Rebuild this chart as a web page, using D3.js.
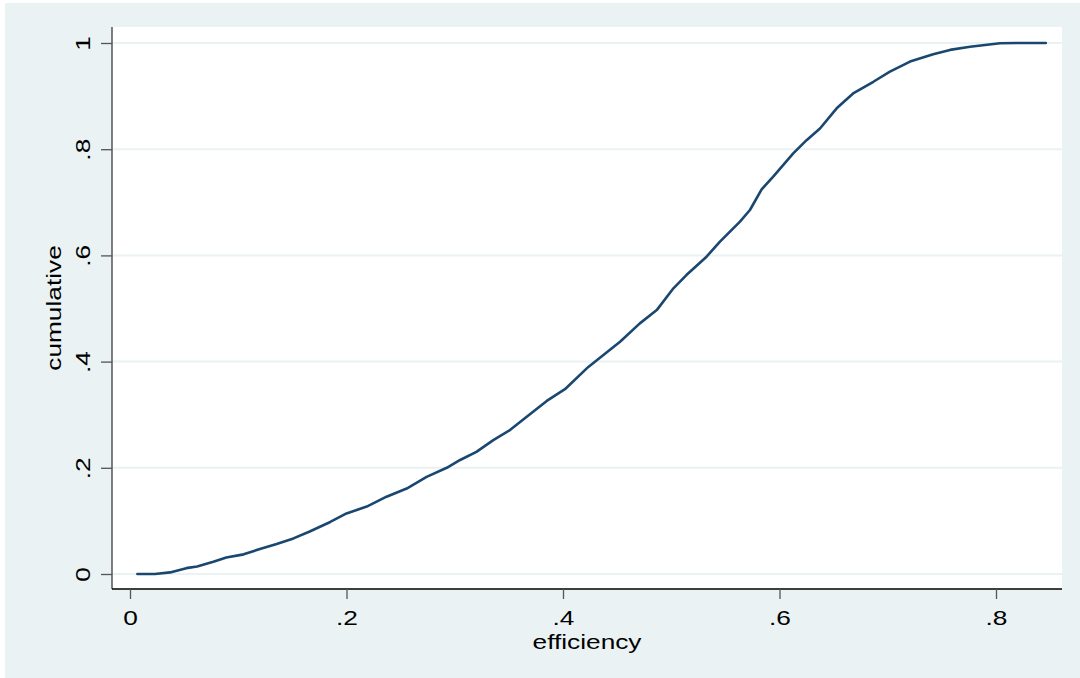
<!DOCTYPE html>
<html>
<head>
<meta charset="utf-8">
<script src="https://cdn.jsdelivr.net/npm/d3@7"></script>
<style>
  html, body { margin: 0; padding: 0; background: #ffffff; }
  svg { display: block; }
  text { font-family: "Liberation Sans", Arial, sans-serif; fill: #000; }
</style>
</head>
<body>
<svg id="chart" width="1080" height="678"></svg>
<script>
// Empirical cumulative distribution of efficiency scores
const efficiency = [
  0.0068, 0.023, 0.037, 0.052, 0.062, 0.077, 0.089, 0.105, 0.120, 0.1355,
  0.151, 0.166, 0.185, 0.200, 0.2187, 0.237, 0.2556, 0.274, 0.2926, 0.305,
  0.320, 0.3356, 0.351, 0.3665, 0.385, 0.4018, 0.4234, 0.4527, 0.471, 0.4866,
  0.502, 0.514, 0.5326, 0.545, 0.5635, 0.5727, 0.5835, 0.594, 0.6127, 0.625,
  0.6374, 0.6528, 0.668, 0.6867, 0.702, 0.7206, 0.742, 0.7575, 0.776, 0.8037,
  0.819, 0.846
];
const cumulative = [
  0.000, 0.000, 0.003, 0.011, 0.014, 0.023, 0.031, 0.037, 0.047, 0.0565,
  0.067, 0.080, 0.098, 0.114, 0.127, 0.1456, 0.161, 0.183, 0.200, 0.2147,
  0.230, 0.252, 0.271, 0.296, 0.326, 0.348, 0.390, 0.4375, 0.472, 0.497,
  0.538, 0.563, 0.5976, 0.626, 0.6635, 0.6855, 0.7245, 0.748, 0.792, 0.817,
  0.839, 0.877, 0.905, 0.927, 0.946, 0.965, 0.979, 0.987, 0.993, 0.9994,
  1.000, 1.000
];
const xTicks = [0, 0.2, 0.4, 0.6, 0.8];
const xTickLabels = ["0", ".2", ".4", ".6", ".8"];
const yTicks = [0, 0.2, 0.4, 0.6, 0.8, 1];
const yTickLabels = ["0", ".2", ".4", ".6", ".8", "1"];
const xTitle = "efficiency";
const yTitle = "cumulative";

const W = 1080, H = 678;
const plot = { left: 112, right: 1062, top: 27, bottom: 589 };
const FONT = "21px";
const STRETCH = 1.25; // wide lettering along the text direction

const svg = d3.select("#chart");

// Outer graph region
svg.append("rect").attr("x", 5).attr("y", 3).attr("width", W - 5).attr("height", H - 3)
  .attr("fill", "#EAF2F3");
// Plot region
svg.append("rect").attr("x", plot.left).attr("y", plot.top)
  .attr("width", plot.right - plot.left).attr("height", plot.bottom - plot.top)
  .attr("fill", "#ffffff");

const x = d3.scaleLinear().domain([0, 0.8]).range([130, 996]);
const y = d3.scaleLinear().domain([0, 1]).range([574, 43]);

// Horizontal grid lines
svg.append("g").selectAll("line").data(yTicks).join("line")
  .attr("x1", plot.left).attr("x2", plot.right)
  .attr("y1", d => y(d)).attr("y2", d => y(d))
  .attr("stroke", "#EAF2F3").attr("stroke-width", 2);

// Y axis
const yAxis = d3.axisLeft(y).tickValues(yTicks).tickSize(11).tickPadding(0)
  .tickFormat((d, i) => yTickLabels[i]);
const gy = svg.append("g").attr("transform", `translate(${plot.left},0)`).call(yAxis);
gy.select(".domain").attr("d", `M0,${plot.top}V${plot.bottom}`).attr("stroke", "#555").attr("stroke-width", 1.5);
gy.selectAll(".tick line").attr("stroke", "#555").attr("stroke-width", 1.3);
gy.selectAll(".tick text")
  .attr("x", 0).attr("dy", 0)
  .attr("transform", `translate(-22,0) rotate(-90) scale(${STRETCH},1)`)
  .attr("text-anchor", "middle")
  .style("font-size", FONT).style("font-family", "'Liberation Sans', Arial, sans-serif")
  .attr("fill", "#000");

// X axis
const xAxis = d3.axisBottom(x).tickValues(xTicks).tickSize(10).tickPadding(0)
  .tickFormat((d, i) => xTickLabels[i]);
const gx = svg.append("g").attr("transform", `translate(0,${plot.bottom})`).call(xAxis);
gx.select(".domain").attr("d", `M${plot.left},0H${plot.right}`).attr("stroke", "#000").attr("stroke-width", 1.5);
gx.selectAll(".tick line").attr("stroke", "#555").attr("stroke-width", 1.3);
gx.selectAll(".tick text")
  .attr("y", 0).attr("dy", 0)
  .attr("transform", `translate(0,36) scale(${STRETCH},1)`)
  .style("font-size", FONT).style("font-family", "'Liberation Sans', Arial, sans-serif")
  .attr("fill", "#000");

// Axis titles
svg.append("text")
  .attr("transform", `translate(${(plot.left + plot.right) / 2},649) scale(${STRETCH},1)`)
  .attr("text-anchor", "middle").style("font-size", FONT).text(xTitle);
svg.append("text")
  .attr("transform", `translate(61,${(plot.top + plot.bottom) / 2}) rotate(-90) scale(${STRETCH},1)`)
  .attr("text-anchor", "middle").style("font-size", FONT).text(yTitle);

// Cumulative curve
const pts = efficiency.map((e, i) => [e, cumulative[i]]);
svg.append("path").datum(pts)
  .attr("fill", "none").attr("stroke", "#1A476F").attr("stroke-width", 2.6)
  .attr("stroke-linejoin", "round").attr("stroke-linecap", "round")
  .attr("d", d3.line().x(d => x(d[0])).y(d => y(d[1])));
</script>
</body>
</html>
